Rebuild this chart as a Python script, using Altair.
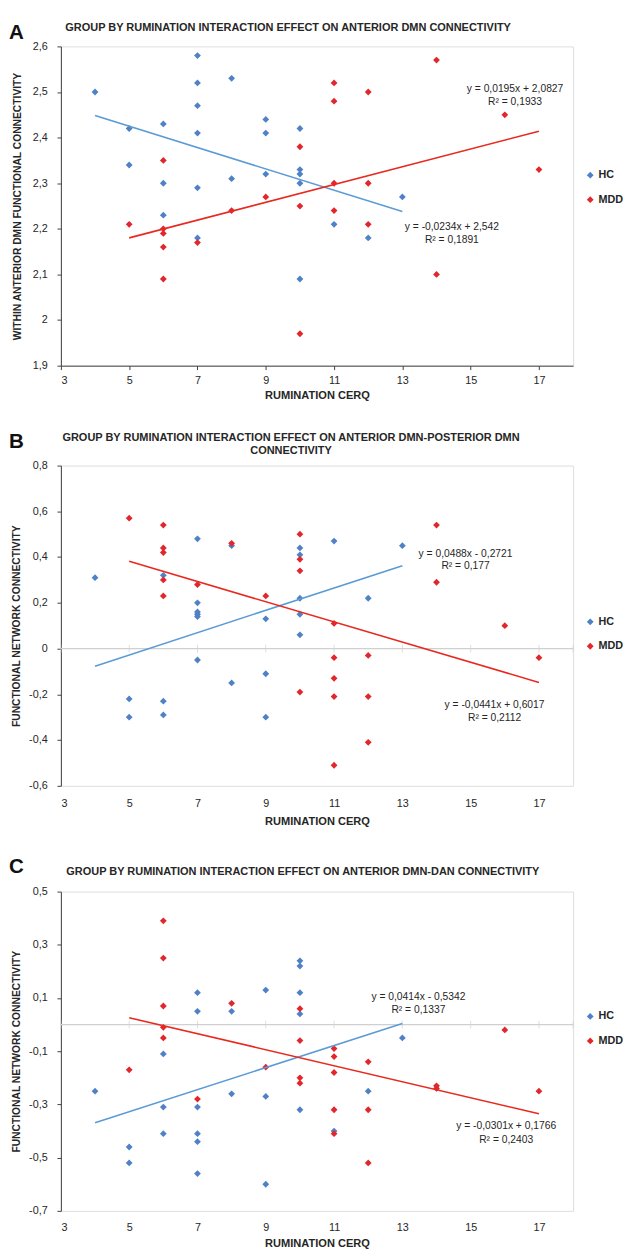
import altair as alt
import pandas as pd

FONT = "Liberation Sans"
BLUE = "#4F81C7"
RED = "#E2262B"
BLUE_LINE = "#5B9BD5"
RED_LINE = "#E8291F"
TXT = "#262626"

X_TICKS = [3, 5, 7, 9, 11, 13, 15, 17]
X_DOMAIN = [3, 18]

# ---------------- Panel A ----------------
A_HC_X = [4, 5, 5, 6, 6, 6, 7, 7, 7, 7, 7, 7, 8, 8, 9, 9, 9, 10, 10, 10, 10, 10, 11, 12, 13]
A_HC_Y = [2.50, 2.42, 2.34, 2.43, 2.30, 2.23, 2.58, 2.52, 2.47, 2.41, 2.29, 2.18, 2.53, 2.31,
          2.44, 2.41, 2.32, 2.42, 2.33, 2.32, 2.30, 2.09, 2.21, 2.18, 2.27]
A_MDD_X = [5, 6, 6, 6, 6, 6, 7, 8, 9, 10, 10, 10, 11, 11, 11, 11, 12, 12, 12, 14, 14, 16, 17]
A_MDD_Y = [2.21, 2.35, 2.20, 2.19, 2.16, 2.09, 2.17, 2.24, 2.27, 2.38, 2.25, 1.97, 2.52, 2.48,
           2.30, 2.24, 2.50, 2.30, 2.21, 2.57, 2.10, 2.45, 2.33]
A_COEF = {"HC": (-0.0234, 2.542), "MDD": (0.0195, 2.0827)}
A_Y_TICKS = [1.9, 2.0, 2.1, 2.2, 2.3, 2.4, 2.5, 2.6]
A_EQ = [(14.45, 2.205, "y = -0,0234x + 2,542"), (14.45, 2.176, "R² = 0,1891"),
        (16.3, 2.507, "y = 0,0195x + 2,0827"), (16.3, 2.478, "R² = 0,1933")]
A_TITLE = ["GROUP BY RUMINATION INTERACTION EFFECT ON ANTERIOR DMN CONNECTIVITY"]

# ---------------- Panel B ----------------
B_HC_X = [4, 5, 5, 6, 6, 6, 7, 7, 7, 7, 7, 7, 8, 8, 9, 9, 9, 10, 10, 10, 10, 10, 11, 12, 13]
B_HC_Y = [0.31, -0.22, -0.30, 0.32, -0.23, -0.29, 0.48, 0.20, 0.16, 0.15, 0.14, -0.05, 0.45, -0.15,
          0.13, -0.11, -0.30, 0.44, 0.41, 0.22, 0.15, 0.06, 0.47, 0.22, 0.45]
B_MDD_X = [5, 6, 6, 6, 6, 6, 7, 8, 9, 10, 10, 10, 10, 11, 11, 11, 11, 11, 12, 12, 12, 14, 14, 16, 17]
B_MDD_Y = [0.57, 0.54, 0.44, 0.42, 0.30, 0.23, 0.28, 0.46, 0.23, 0.50, 0.39, 0.34, -0.19, 0.11,
           -0.04, -0.13, -0.21, -0.51, -0.03, -0.21, -0.41, 0.54, 0.29, 0.10, -0.04]
B_COEF = {"HC": (0.0488, -0.2721), "MDD": (-0.0441, 0.6017)}
B_Y_TICKS = [-0.6, -0.4, -0.2, 0.0, 0.2, 0.4, 0.6, 0.8]
B_EQ = [(14.85, 0.415, "y = 0,0488x - 0,2721"), (14.85, 0.359, "R² = 0,177"),
        (15.7, -0.249, "y = -0,0441x + 0,6017"), (15.7, -0.305, "R² = 0,2112")]
B_TITLE = ["GROUP BY RUMINATION INTERACTION EFFECT ON ANTERIOR DMN-POSTERIOR DMN",
           "CONNECTIVITY"]

# ---------------- Panel C ----------------
C_HC_X = [4, 5, 5, 6, 6, 6, 7, 7, 7, 7, 7, 7, 8, 8, 9, 9, 9, 10, 10, 10, 10, 10, 11, 12, 13]
C_HC_Y = [-0.25, -0.46, -0.52, -0.11, -0.31, -0.41, 0.12, 0.05, -0.31, -0.41, -0.44, -0.56, 0.05,
          -0.26, 0.13, -0.27, -0.60, 0.24, 0.22, 0.12, 0.04, -0.32, -0.40, -0.25, -0.05]
C_MDD_X = [5, 6, 6, 6, 6, 6, 7, 8, 9, 10, 10, 10, 10, 11, 11, 11, 11, 11, 12, 12, 12, 14, 14, 16, 17]
C_MDD_Y = [-0.17, 0.39, 0.25, 0.07, -0.01, -0.05, -0.28, 0.08, -0.16, 0.06, -0.06, -0.20, -0.22,
           -0.09, -0.12, -0.18, -0.32, -0.41, -0.14, -0.32, -0.52, -0.23, -0.24, -0.02, -0.25]
C_COEF = {"HC": (0.0414, -0.5342), "MDD": (-0.0301, 0.1766)}
C_Y_TICKS = [-0.7, -0.5, -0.3, -0.1, 0.1, 0.3, 0.5]
C_EQ = [(13.47, 0.103, "y = 0,0414x - 0,5342"), (13.47, 0.053, "R² = 0,1337"),
        (16.04, -0.383, "y = -0,0301x + 0,1766"), (16.04, -0.433, "R² = 0,2403")]
C_TITLE = ["GROUP BY RUMINATION INTERACTION EFFECT ON ANTERIOR DMN-DAN CONNECTIVITY"]

LABEL_EXPR = ("datum.value == round(datum.value) ? format(datum.value, 'd') : "
              "replace(replace(format(datum.value, '.1f'), '.', ','), '\u2212', '-')")

PLOT_W = 523


def make_panel(letter, title_lines, ytitle, hc_x, hc_y, mdd_x, mdd_y, coef, yticks, eqs,
               zero, height, letter_y, title_x, title_y, legend_y,
               ytitle_pad, xlabel_pad, xtitle_pad):
    pts = pd.DataFrame({
        "x": hc_x + mdd_x,
        "y": hc_y + mdd_y,
        "group": ["HC"] * len(hc_x) + ["MDD"] * len(mdd_x),
    })
    ydom = [min(yticks), max(yticks)]

    X = alt.X("x:Q", scale=alt.Scale(domain=X_DOMAIN, nice=False, zero=False),
              axis=alt.Axis(values=X_TICKS, title="RUMINATION CERQ", grid=False,
                            domain=not zero, domainColor="#404040",
                            ticks=not zero, tickSize=(4 if not zero else 0), tickColor="#404040",
                            labelFont=FONT, labelFontSize=11, labelColor=TXT,
                            labelPadding=xlabel_pad,
                            titleFont=FONT, titleFontSize=11.3, titleFontWeight="bold",
                            titleColor=TXT, titlePadding=xtitle_pad))
    Y = alt.Y("y:Q", scale=alt.Scale(domain=ydom, nice=False, zero=False),
              axis=alt.Axis(values=yticks, labelExpr=LABEL_EXPR, title=ytitle, grid=False,
                            domainColor="#404040", tickColor="#404040", tickSize=4,
                            labelFont=FONT, labelFontSize=11, labelColor=TXT, labelPadding=10,
                            titleFont=FONT, titleFontSize=10.5, titleFontWeight="bold",
                            titleColor=TXT, titlePadding=ytitle_pad))

    layers = []
    if zero:
        zdf = pd.DataFrame({"y": [0.0]})
        layers.append(alt.Chart(zdf).mark_rule(color="#d0d0d0", strokeWidth=1.2).encode(y=Y))
        tdf = pd.DataFrame({"x": X_TICKS + [18], "y": [0.0] * (len(X_TICKS) + 1)})
        layers.append(alt.Chart(tdf).mark_tick(orient="vertical", size=8, thickness=1,
                                               color="#d0d0d0").encode(x=X, y=Y))

    points = alt.Chart(pts).mark_point(shape="diamond", filled=True, size=48, opacity=1,
                                       strokeWidth=0).encode(
        x=X, y=Y,
        fill=alt.Fill("group:N",
                      scale=alt.Scale(domain=["HC", "MDD"], range=[BLUE, RED]),
                      legend=alt.Legend(title=None, orient="none", legendX=535, legendY=legend_y,
                                        symbolType="diamond", symbolSize=48, symbolStrokeWidth=0,
                                        labelFont=FONT, labelFontSize=11, labelFontWeight="bold",
                                        labelColor=TXT, rowPadding=13, labelOffset=3, padding=0)),
    )
    layers.append(points)

    for grp, gx, col in (("HC", hc_x, BLUE_LINE), ("MDD", mdd_x, RED_LINE)):
        s, b = coef[grp]
        xs = [min(gx), max(gx)]
        ldf = pd.DataFrame({"x": xs, "y": [s * v + b for v in xs]})
        layers.append(alt.Chart(ldf).mark_line(color=col, strokeWidth=1.6).encode(x=X, y=Y))

    edf = pd.DataFrame({"x": [e[0] for e in eqs], "y": [e[1] for e in eqs],
                        "t": [e[2] for e in eqs]})
    layers.append(alt.Chart(edf).mark_text(font=FONT, fontSize=10.5, color=TXT,
                                           align="center", baseline="middle").encode(
        x=X, y=Y, text="t:N"))

    # panel letter
    ldf2 = pd.DataFrame({"t": [letter]})
    layers.append(alt.Chart(ldf2).mark_text(font=FONT, fontSize=21, fontWeight="bold",
                                            color="#111111", align="left",
                                            baseline="middle").encode(
        text="t:N", x=alt.value(-53), y=alt.value(letter_y)))

    # panel heading (one text per line)
    n = len(title_lines)
    for i, line in enumerate(title_lines):
        hdf = pd.DataFrame({"t": [line]})
        layers.append(alt.Chart(hdf).mark_text(font=FONT, fontSize=11.2, fontWeight="bold",
                                               color=TXT, align="center",
                                               baseline="middle").encode(
            text="t:N", x=alt.value(title_x), y=alt.value(title_y - 13 * (n - 1 - i))))

    return alt.layer(*layers).properties(width=PLOT_W, height=height)


pA = make_panel("A", A_TITLE, "WITHIN ANTERIOR DMN FUNCTIONAL CONNECTIVITY",
                A_HC_X, A_HC_Y, A_MDD_X, A_MDD_Y, A_COEF, A_Y_TICKS, A_EQ,
                zero=False, height=326, letter_y=-14, title_x=232, title_y=-19,
                legend_y=126, ytitle_pad=10, xlabel_pad=5, xtitle_pad=5)
pB = make_panel("B", B_TITLE, "FUNCTIONAL NETWORK CONNECTIVITY",
                B_HC_X, B_HC_Y, B_MDD_X, B_MDD_Y, B_COEF, B_Y_TICKS, B_EQ,
                zero=True, height=327, letter_y=-24, title_x=235, title_y=-15,
                legend_y=154, ytitle_pad=7, xlabel_pad=12, xtitle_pad=7)
pC = make_panel("C", C_TITLE, "FUNCTIONAL NETWORK CONNECTIVITY",
                C_HC_X, C_HC_Y, C_MDD_X, C_MDD_Y, C_COEF, C_Y_TICKS, C_EQ,
                zero=True, height=326, letter_y=-25, title_x=247, title_y=-20,
                legend_y=122, ytitle_pad=7, xlabel_pad=11, xtitle_pad=5)

chart = alt.vconcat(pA, pB, pC, spacing=29).resolve_scale(
    fill="independent", x="independent", y="independent"
).resolve_legend(fill="independent").properties(
    padding={"left": 0, "top": 0, "right": 0, "bottom": 0}
).configure_view(stroke="#8a8a8a", strokeWidth=1).configure(background="white")

chart.save("out.html", embed_options={"renderer": "svg", "actions": False})
